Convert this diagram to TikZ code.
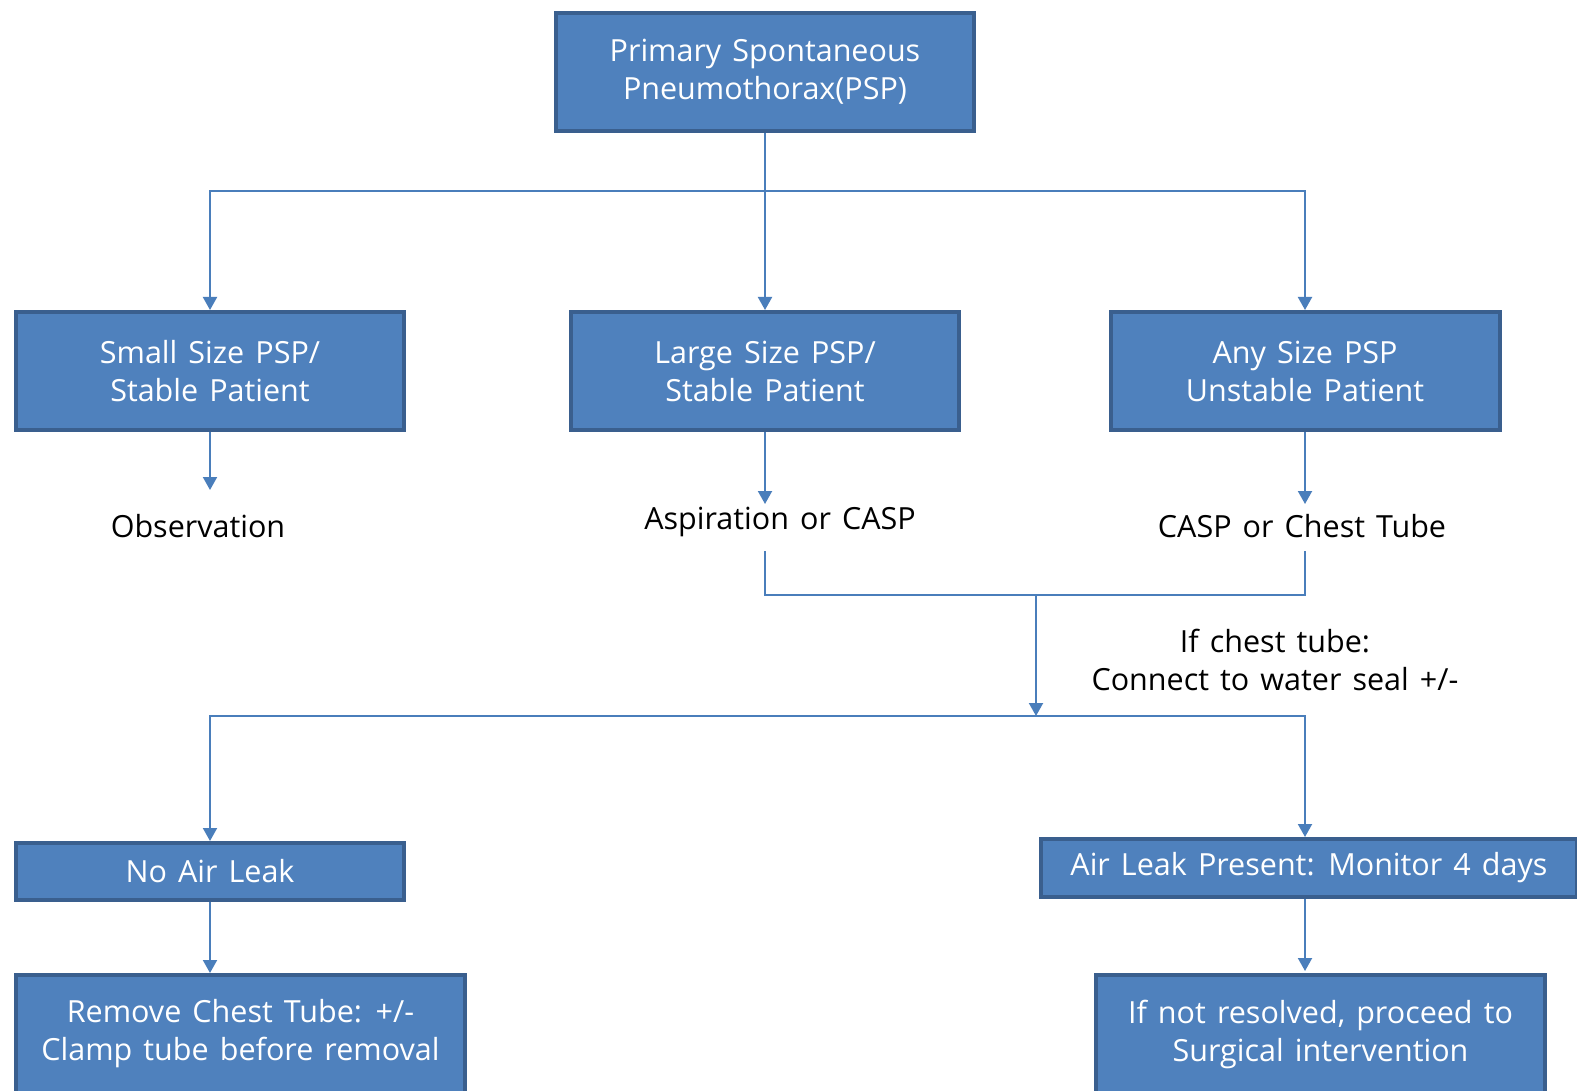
\documentclass[tikz,border=0pt]{standalone}
\usepackage{fontspec}
\setmainfont{Open Sans}[WordSpace=1.4]
\usetikzlibrary{arrows.meta}
\definecolor{boxfill}{HTML}{4F81BD}
\definecolor{boxline}{HTML}{3A5F8E}
\definecolor{lnk}{HTML}{4A7EBB}
\begin{document}
\begin{tikzpicture}[x=1pt,y=-1pt,
 box/.style={draw=boxline, line width=4pt, fill=boxfill, text=white, align=center, inner sep=0pt, font=\fontsize{30.5}{38}\selectfont},
 lbl/.style={text=black, align=center, inner sep=0pt, font=\fontsize{30.5}{38}\selectfont},
 conn/.style={draw=lnk, line width=2pt},
 arr/.style={conn, -{Triangle[width=14pt,length=13pt]}}]
\useasboundingbox (0,0) rectangle (1577,1091);
\fill[white] (0,0) rectangle (1577,1091);

\node[box, minimum width=418pt, minimum height=118pt] (top) at (765,72) {Primary Spontaneous\\Pneumothorax(PSP)};
\node[box, minimum width=388pt, minimum height=118pt] (small) at (210,371) {Small Size PSP/\\Stable Patient};
\node[box, minimum width=388pt, minimum height=118pt] (large) at (765,371) {Large Size PSP/\\Stable Patient};
\node[box, minimum width=389pt, minimum height=118pt] (any) at (1305,371) {Any Size PSP\\Unstable Patient};

\node[lbl] (obs) at (198,526) {Observation};
\node[lbl] (asp) at (780,522) {Aspiration or CASP};
\node[lbl] (casp) at (1302,526) {CASP or Chest Tube};
\node[lbl] (ct) at (1275,660) {If chest tube:\\Connect to water seal +/-};

\node[box, minimum width=388pt, minimum height=57pt] (noleak) at (210,871.5) {No Air Leak};
\node[box, minimum width=536pt, minimum height=58pt] (leak) at (1309,868) {Air Leak Present: Monitor 4 days};
\node[box, minimum width=449pt, minimum height=118pt] (remove) at (240.5,1034) {Remove Chest Tube: +/-\\Clamp tube before removal};
\node[box, minimum width=449pt, minimum height=118pt] (surg) at (1320.5,1034) {If not resolved, proceed to\\Surgical intervention};

% top split
\coordinate (j1) at (765,191);
\draw[arr] (top.south) -- (large.north);
\draw[arr] (j1) -| (small.north);
\draw[arr] (j1) -| (any.north);

% results
\coordinate (obsend) at (210,490);
\coordinate (aspend) at (765,504);
\coordinate (caspend) at (1305,504);
\draw[arr] (small.south) -- (obsend);
\draw[arr] (large.south) -- (aspend);
\draw[arr] (any.south) -- (caspend);

% join
\coordinate (ja) at (765,551);
\coordinate (jb) at (1305,551);
\coordinate (jal) at (765,595);
\coordinate (jbr) at (1305,595);
\coordinate (jm) at (1036,595);
\coordinate (jn) at (1036,716);
\draw[conn] (ja) -- (jal) -- (jbr) -- (jb);
\draw[arr] (jm) -- (jn);

% lower split
\coordinate (leaktop) at (1305,837);
\draw[arr] (jn) -| (noleak.north);
\draw[arr] (jn) -| (leaktop);

\draw[arr] (noleak.south) -- (noleak.south |- remove.north);
\coordinate (lb) at (1305,899);
\coordinate (sb) at (1305,971);
\draw[arr] (lb) -- (sb);
\end{tikzpicture}
\end{document}
